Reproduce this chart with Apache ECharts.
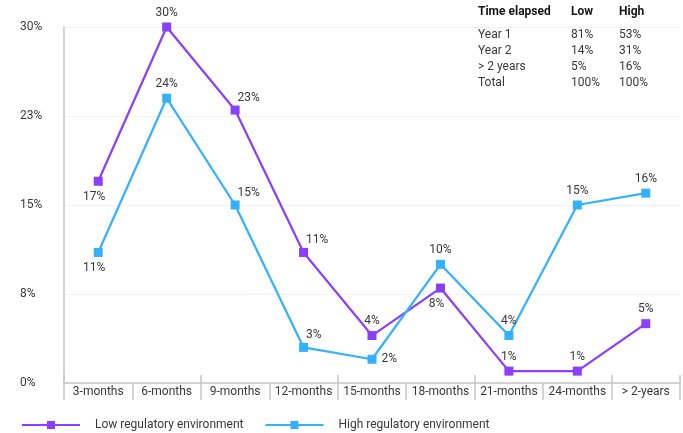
<!DOCTYPE html>
<html>
<head>
<meta charset="utf-8">
<script src="https://cdn.jsdelivr.net/npm/echarts@6/dist/echarts.min.js"></script>
<style>
html,body{margin:0;padding:0;background:#fff;}
#chart{width:683px;height:433px;}
</style>
</head>
<body>
<div id="chart"></div>
<script>
const categories = ['3-months','6-months','9-months','12-months','15-months','18-months','21-months','24-months','> 2-years'];
const lowValues = [17, 30, 23, 11, 4, 8, 1, 1, 5];
const highValues = [11, 24, 15, 3, 2, 10, 4, 15, 16];
const seriesNames = ['Low regulatory environment', 'High regulatory environment'];
const tableHeader = ['Time elapsed', 'Low', 'High'];
const tableRows = [
  ['Year 1', '81%', '53%'],
  ['Year 2', '14%', '31%'],
  ['> 2 years', '5%', '16%'],
  ['Total', '100%', '100%']
];

// label placement styles (not data)
const lowLabelPos = ['below','above','ne','ne','above','below','above','above','above'];
const highLabelPos = ['below','above','ne','ne','right','above','above','above','above'];

const FONT = 'Roboto, "Noto Sans", sans-serif';
const TXT = '#393939';

function labelFor(p) {
  if (p === 'above') return {position: 'top', distance: 4};
  if (p === 'below') return {position: 'bottom', distance: 5, offset: [-4, 0]};
  if (p === 'right') return {position: 'right', distance: 5};
  return {position: 'right', distance: 5, offset: [-7, -12]};
}
function build(vals, pos) {
  return vals.map((v, i) => ({value: v, label: labelFor(pos[i])}));
}

const colX = [478, 571, 619];
const graphics = [];
tableHeader.forEach((t, c) => graphics.push({
  type: 'text', left: colX[c], top: 6,
  style: {text: t, font: 'bold 12px ' + FONT, fill: '#161616'}
}));
tableRows.forEach((row, r) => row.forEach((t, c) => graphics.push({
  type: 'text', left: colX[c], top: 29 + r * 16,
  style: {text: t, font: '12px ' + FONT, fill: TXT}
})));

const chart = echarts.init(document.getElementById('chart'), null, {renderer: 'canvas'});
chart.setOption({
  animation: false,
  backgroundColor: '#fff',
  textStyle: {fontFamily: FONT},
  grid: {left: 64, right: 3, top: 27, bottom: 50, containLabel: false},
  legend: {
    top: 419, left: 21, padding: 0,
    itemWidth: 58, itemHeight: 10, itemGap: 21,
    textStyle: {fontSize: 12, color: TXT, fontFamily: FONT, padding: [0, 0, 0, 10]},
    data: seriesNames
  },
  xAxis: [{
    type: 'category', data: categories, position: 'bottom',
    axisLine: {lineStyle: {color: '#c6c6c6', width: 1.5}},
    axisTick: {show: true, length: 17, lineStyle: {color: '#c6c6c6', width: 1.5}},
    axisLabel: {color: TXT, fontSize: 12, fontFamily: FONT, margin: 3, interval: 0}
  }, {
    type: 'category', data: categories, position: 'bottom',
    axisLine: {show: false},
    axisTick: {show: true, inside: true, length: 8, lineStyle: {color: '#c6c6c6', width: 1.5}},
    axisLabel: {show: false}
  }],
  yAxis: {
    type: 'value', min: 0, max: 30, interval: 7.5,
    axisLine: {show: true, lineStyle: {color: '#c6c6c6', width: 1.5}},
    axisTick: {show: false},
    splitLine: {lineStyle: {color: '#f2f2f2', width: 1}},
    axisLabel: {
      color: TXT, fontSize: 12, fontFamily: FONT, align: 'left', margin: 44,
      formatter: v => Math.round(v) + '%'
    }
  },
  graphic: graphics,
  series: [{
    name: seriesNames[0], type: 'line', data: build(lowValues, lowLabelPos),
    color: '#8a3ffc', symbol: 'rect', symbolSize: 9,
    lineStyle: {width: 2.2},
    label: {show: true, formatter: '{c}%', color: TXT, fontSize: 12, fontFamily: FONT}
  }, {
    name: seriesNames[1], type: 'line', data: build(highValues, highLabelPos),
    color: '#33b1ff', symbol: 'rect', symbolSize: 9,
    lineStyle: {width: 2.2},
    label: {show: true, formatter: '{c}%', color: TXT, fontSize: 12, fontFamily: FONT}
  }]
});
</script>
</body>
</html>
